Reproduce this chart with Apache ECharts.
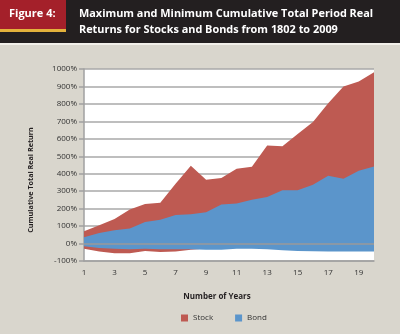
<!DOCTYPE html>
<html><head><meta charset="utf-8">
<script src="https://cdn.jsdelivr.net/npm/echarts@6/dist/echarts.min.js"></script>
<style>html,body{margin:0;padding:0;background:#d9d6cd;}#c{width:400px;height:334px;}</style>
</head><body><div id="c"></div>
<script>
var years = ['1','2','3','4','5','6','7','8','9','10','11','12','13','14','15','16','17','18','19','20'];
var stockMax = [70,105,140,195,227,234,343,446,366,375,428,440,562,558,628,697,804,900,928,981];
var stockMin = [-30,-45,-55,-55,-42,-48,-45,-36,-28,-25,-22,-20,-15,-12,-8,-5,2,8,12,15];
var bondMax = [36,61,76,86,124,137,164,168,179,223,229,251,267,305,305,337,389,371,417,442];
var bondMin = [-15,-25,-30,-32,-30,-33,-33,-33,-35,-35,-30,-30,-33,-38,-42,-44,-45,-45,-45,-45];
var yTicks = ['-100%','0%','100%','200%','300%','400%','500%','600%','700%','800%','900%','1000%'];

var stockBand = stockMax.map(function(v,i){return v - stockMin[i];});
var bondBand = bondMax.map(function(v,i){return v - bondMin[i];});
var FONT = '"Open Sans", "Noto Sans", sans-serif';

var chart = echarts.init(document.getElementById('c'), null, {renderer:'canvas'});
chart.setOption({
  backgroundColor: '#d9d6cd',
  animation: false,
  graphic: [
    {type:'rect', left:0, top:0, shape:{width:400, height:43}, style:{fill:'#231f20'}, z:1},
    {type:'rect', left:0, top:43, shape:{width:400, height:2}, style:{fill:'#f2f0ea'}, z:1},
    {type:'rect', left:0, top:0, shape:{width:66, height:29}, style:{fill:'#a4202a'}, z:2},
    {type:'rect', left:0, top:29, shape:{width:66, height:3}, style:{fill:'#e3b23c'}, z:2},
    {type:'text', left:9, top:8, style:{text:'Figure 4:', fill:'#ffffff', font:'bold 11px ' + FONT}, z:3},
    {type:'text', left:79, top:8, style:{text:'Maximum and Minimum Cumulative Total Period Real', fill:'#ffffff', font:'bold 10.9px ' + FONT}, z:3},
    {type:'text', left:79, top:24, style:{text:'Returns for Stocks and Bonds from 1802 to 2009', fill:'#ffffff', font:'bold 10.9px ' + FONT}, z:3}
  ],
  grid: {left:84, right:26, top:69, bottom:73, show:true, backgroundColor:'#ffffff', borderWidth:0},
  legend: {
    data:['Stock','Bond'], bottom:7, left:176, icon:'rect', itemWidth:7, itemHeight:7, itemGap:22,
    textStyle:{fontFamily:FONT, fontSize:8, color:'#333'}
  },
  xAxis: {
    type:'category', data:years, boundaryGap:false,
    name:'Number of Years', nameLocation:'middle', nameGap:32,
    nameTextStyle:{fontFamily:FONT, fontSize:8, fontWeight:'bold', color:'#231f20', padding:[0,24,0,0]},
    axisLine:{onZero:false, lineStyle:{color:'#a0a0a0', width:1.5}},
    axisTick:{show:false},
    axisLabel:{interval:1, fontFamily:FONT, fontSize:8, color:'#333', margin:8},
    splitLine:{show:false}
  },
  yAxis: {
    type:'value', min:-100, max:1000, interval:100,
    name:'Cumulative Total Real Return', nameLocation:'middle', nameGap:50, nameRotate:90,
    nameTextStyle:{fontFamily:FONT, fontSize:7.2, fontWeight:'bold', color:'#231f20', padding:[0,30,0,0]},
    axisLine:{show:true, lineStyle:{color:'#a0a0a0', width:1.5}},
    axisTick:{show:true, length:5, lineStyle:{color:'#a0a0a0', width:1.5}},
    axisLabel:{fontFamily:FONT, fontSize:8, color:'#333', margin:7, formatter:function(v){return yTicks[Math.round((v+100)/100)];}},
    splitLine:{show:true, lineStyle:{color:'#a8a8a8', width:1.5}}
  },
  series: [
    {name:'stockBase', type:'line', stack:'s', stackStrategy:'all', data:stockMin, symbol:'none', lineStyle:{width:0}, silent:true},
    {name:'Stock', type:'line', stack:'s', stackStrategy:'all', data:stockBand, symbol:'none', lineStyle:{width:0}, itemStyle:{color:'#be5a52'}, areaStyle:{color:'#be5a52', opacity:1}},
    {name:'bondBase', type:'line', stack:'b', stackStrategy:'all', data:bondMin, symbol:'none', lineStyle:{width:0}, silent:true},
    {name:'Bond', type:'line', stack:'b', stackStrategy:'all', data:bondBand, symbol:'none', lineStyle:{width:0}, itemStyle:{color:'#5b95cb'}, areaStyle:{color:'#5b95cb', opacity:1},
      markLine:{silent:true, symbol:'none', label:{show:false}, data:[{yAxis:0}], lineStyle:{color:'#9a9a9a', width:1.5, type:'solid'}}}
  ]
});
</script></body></html>
